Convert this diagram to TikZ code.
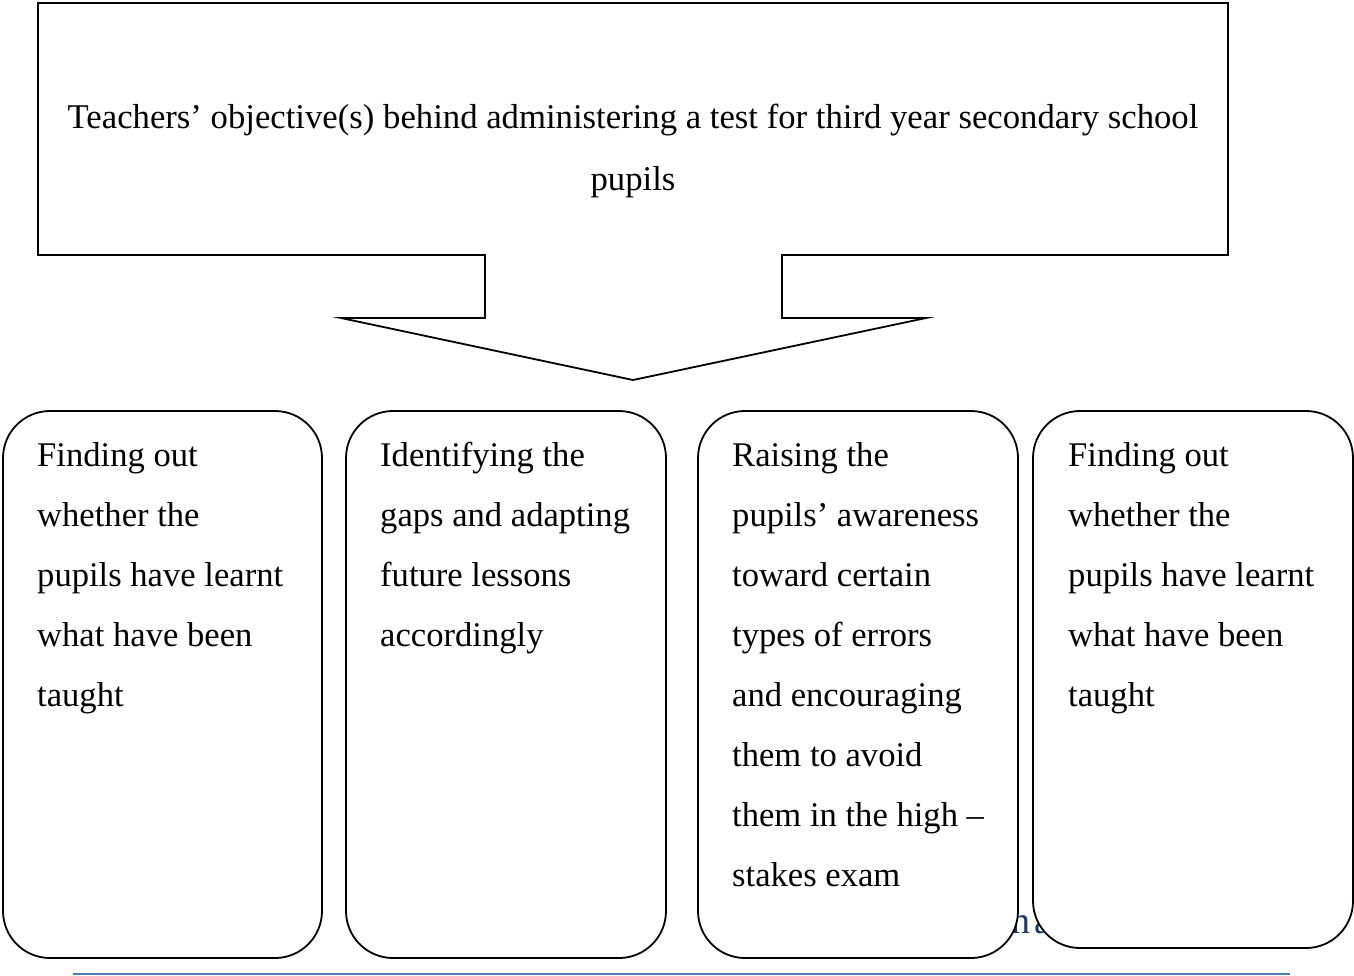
\documentclass[tikz,border=0pt]{standalone}
\usepackage{fontspec}
\setmainfont{Liberation Serif}
\definecolor{hidblue}{HTML}{1F3864}
\definecolor{rule}{HTML}{4A7EBB}
\tikzset{
  shp/.style={draw=black, line width=1.8pt, line join=miter},
  rbox/.style={draw=black, fill=white, line width=1.8pt, rounded corners=47pt},
  btxt/.style={anchor=base west, inner sep=0pt, font=\fontsize{34.6}{60}\selectfont},
}
\begin{document}
\begin{tikzpicture}[x=1pt,y=-1pt]
\useasboundingbox (0,0) rectangle (1354,975);
% callout shape
\draw[shp] (38,3) -- (1228,3) -- (1228,255) -- (782,255) -- (782,318) -- (926,318)
  -- (633,380) -- (341,318) -- (485,318) -- (485,255) -- (38,255) -- cycle;
\node[anchor=base, inner sep=0pt, font=\fontsize{34.7}{62}\selectfont] (title) at (633,128)
  {\begin{tabular}[t]{@{}c@{}}Teachers’ objective(s) behind administering a test for third year secondary school\\ pupils\end{tabular}};
% partially hidden text
\node[anchor=base west, inner sep=0pt, text=hidblue, font=\fontsize{38}{40}\selectfont] (hid) at (1011,933) {n\kern4pt a};
% boxes
\draw[rbox] (3,411) rectangle (322,958);
\draw[rbox] (346,411) rectangle (666,958);
\draw[rbox] (698,411) rectangle (1018,958);
\draw[rbox] (1033,411) rectangle (1353,948);
\coordinate (b1) at (37,466);
\coordinate (b2) at (380,466);
\coordinate (b3) at (732,466);
\coordinate (b4) at (1068,466);
\node[btxt] (t1) at (b1) {\begin{tabular}[t]{@{}l@{}}Finding out\\ whether the\\ pupils have learnt\\ what have been\\ taught\end{tabular}};
\node[btxt] (t2) at (b2) {\begin{tabular}[t]{@{}l@{}}Identifying the\\ gaps and adapting\\ future lessons\\ accordingly\end{tabular}};
\node[btxt] (t3) at (b3) {\begin{tabular}[t]{@{}l@{}}Raising the\\ pupils’ awareness\\ toward certain\\ types of errors\\ and encouraging\\ them to avoid\\ them in the high –\\ stakes exam\end{tabular}};
\node[btxt] (t4) at (b4) {\begin{tabular}[t]{@{}l@{}}Finding out\\ whether the\\ pupils have learnt\\ what have been\\ taught\end{tabular}};
% bottom rule
\coordinate (r1) at (73,974);
\coordinate (r2) at (1290,974);
\draw[rule, line width=1.3pt] (r1) -- (r2);
\end{tikzpicture}
\end{document}
